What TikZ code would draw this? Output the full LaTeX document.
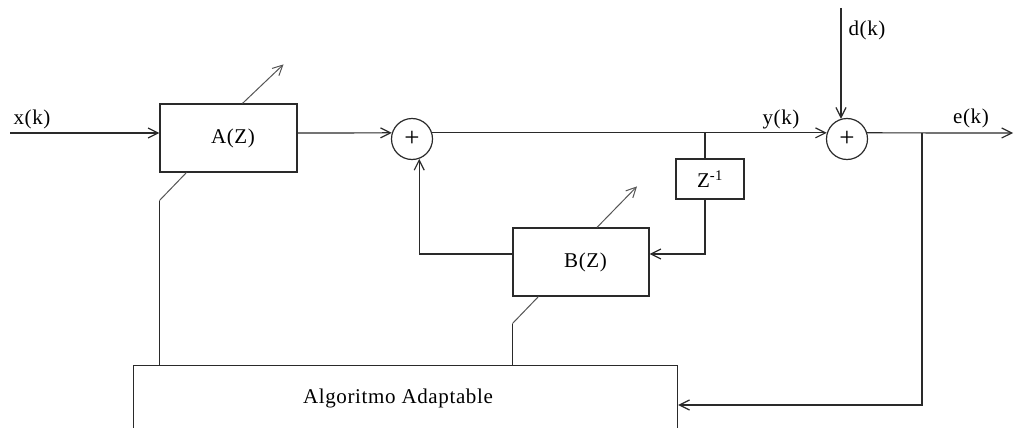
\documentclass[tikz,border=0pt]{standalone}
\usepackage{fontspec}
\setmainfont{Liberation Serif}[LetterSpace=3]
\usetikzlibrary{arrows.meta,calc}
\definecolor{ln}{HTML}{2a2a2a}
\definecolor{adj}{HTML}{555555}
\tikzset{
  arr/.style={-{Straight Barb[length=10pt,width=10pt]}},
  wire/.style={draw=ln, line width=1.2pt},
  adjline/.style={draw=adj, line width=1pt},
  txt/.style={font=\fontsize{21}{24}\selectfont},
  blk/.style={draw=ln, line width=1.2pt, rectangle, inner sep=0pt, txt},
  summ/.style={draw=ln, line width=1.2pt, circle, minimum size=41pt, inner sep=0pt, font=\fontsize{27}{30}\selectfont},
  lbl/.style={inner sep=0pt, txt}
}
\begin{document}
\begin{tikzpicture}[x=1pt,y=-1pt]
\useasboundingbox (0,0) rectangle (1014,428);
\clip (0,0) rectangle (1014,428);

% blocks
\node[blk, minimum width=137pt, minimum height=68pt] (A) at (228.5,138) {\hspace*{9pt}A(Z)};
\node[blk, minimum width=136pt, minimum height=68pt] (B) at (581,262) {\hspace*{9pt}B(Z)};
\node[blk, minimum width=68pt, minimum height=40pt] (Z) at (710,179) {Z\textsuperscript{-1}};
\node[blk, minimum width=544pt, minimum height=120pt, anchor=north west] (alg) at (133,365) {};
\node[lbl] (algt) at (398,398) {Algoritmo Adaptable};
\node[summ] (s1) at (412,139) {+};
\node[summ] (s2) at (847,139) {+};

% coordinates
\coordinate (xin) at (10,133);
\coordinate (tap1) at (705,133);
\coordinate (fb) at (705,254);
\coordinate (din) at (841,8);
\coordinate (tap2) at (922,133);
\coordinate (eout) at (1013,133);
\coordinate (ein) at (922,405);

% connectors
\draw[wire,arr] (xin) -- (xin -| A.west);
\draw[wire,arr] (A.east |- xin) -- (s1.163);
\draw[wire,arr] (s1.17) -- (s2.163);
\draw[wire] (tap1) -- (tap1 |- Z.north);
\draw[wire,arr] (tap1 |- Z.south) -- (fb) -- (fb -| B.east);
\draw[wire,arr] (fb -| B.west) -| (s1.-70);
\draw[wire,arr] (din) -- (din |- s2.107);
\draw[wire,arr] (s2.17) -- (eout);
\draw[wire,arr] (tap2) -- (ein) -- (ein -| alg.east);

% adaptation arrows
\draw[adjline,arr] ([xshift=14pt]A.north) -- ++(41,-39);
\draw[adjline,arr] ([xshift=16pt]B.north) -- ++(40,-41);
\draw[adjline] ([xshift=27pt]A.south west) -- ([yshift=-28pt]A.south west);
\draw[wire] ([yshift=-28pt]A.south west) -- (A.west |- alg.north);
\draw[adjline] ([xshift=26pt]B.south west) -- ([yshift=-27pt]B.south west);
\draw[wire] ([yshift=-27pt]B.south west) -- (B.west |- alg.north);

% labels
\node[lbl] (lx) at (32,119) {x(k)};
\node[lbl] (ly) at (781,119) {y(k)};
\node[lbl] (ld) at (867,30) {d(k)};
\node[lbl] (le) at (971,118) {e(k)};
\end{tikzpicture}
\end{document}
